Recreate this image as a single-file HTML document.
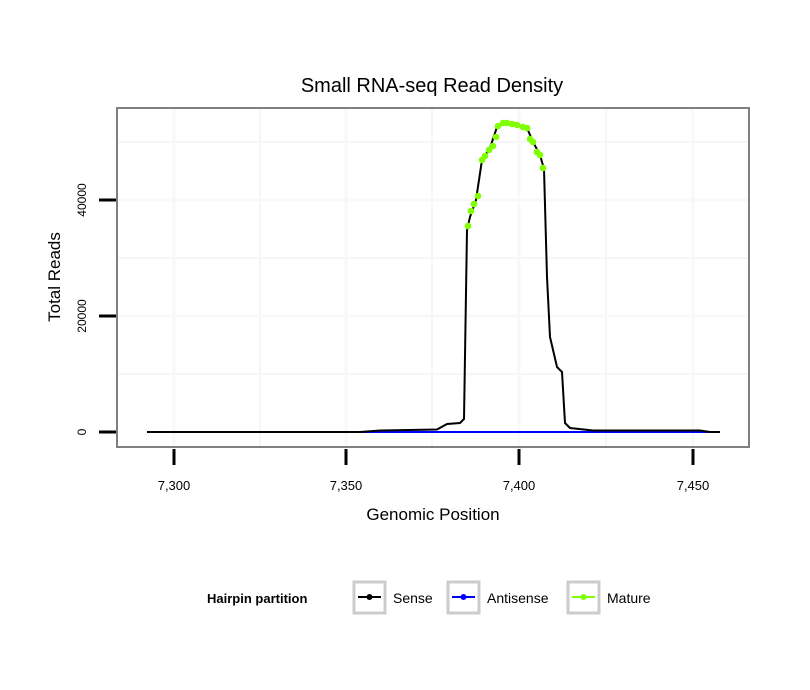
<!DOCTYPE html>
<html><head><meta charset="utf-8"><style>body{margin:0;background:#fff}svg{display:block}</style></head><body>
<svg width="810" height="690" xmlns="http://www.w3.org/2000/svg" font-family="Liberation Sans, sans-serif">
<rect width="810" height="690" fill="#fff"/>
<g stroke="#f6f6f6" stroke-width="2">
<line x1="117" x2="749" y1="142" y2="142"/><line x1="117" x2="749" y1="258" y2="258"/><line x1="117" x2="749" y1="374" y2="374"/>
<line x1="260" x2="260" y1="108" y2="447"/><line x1="432" x2="432" y1="108" y2="447"/><line x1="606" x2="606" y1="108" y2="447"/>
</g>
<g stroke="#f8f8f8" stroke-width="3">
<line x1="117" x2="749" y1="200" y2="200"/><line x1="117" x2="749" y1="316" y2="316"/>
<line x1="174" x2="174" y1="108" y2="447"/><line x1="346" x2="346" y1="108" y2="447"/><line x1="519" x2="519" y1="108" y2="447"/><line x1="693" x2="693" y1="108" y2="447"/>
</g>
<line x1="147" x2="720" y1="432" y2="432" stroke="#0000ff" stroke-width="2"/>
<polyline fill="none" stroke="#000" stroke-width="2" points="147,432 360,432 380,430.5 437,429.5 447,424 460,423 464,419 467,230 470,217 476,200 482,160 490,148 497,127 505,123 517,125 527,128 533,142 540,155 544,169 547,277 550,337 557,367 562,372 565,423 570,428 593,430.5 700,430.5 710,432 720,432"/>
<g fill="#7fff00">
<circle cx="468" cy="226" r="3.3"/><circle cx="471" cy="211" r="3.3"/><circle cx="474" cy="204" r="3.3"/><circle cx="478" cy="196" r="3.3"/><circle cx="482" cy="160" r="3.3"/><circle cx="485" cy="156" r="3.3"/><circle cx="489" cy="150" r="3.3"/><circle cx="493" cy="146" r="3.3"/><circle cx="496" cy="137" r="3.3"/><circle cx="498" cy="126" r="3.3"/><circle cx="503" cy="123" r="3.3"/><circle cx="507" cy="123" r="3.3"/><circle cx="512" cy="124" r="3.3"/><circle cx="517" cy="125" r="3.3"/><circle cx="523" cy="127" r="3.3"/><circle cx="527" cy="128" r="3.3"/><circle cx="530" cy="139" r="3.3"/><circle cx="533" cy="142" r="3.3"/><circle cx="537" cy="152" r="3.3"/><circle cx="540" cy="155" r="3.3"/><circle cx="543" cy="168" r="3.3"/>
</g>
<rect x="117" y="108" width="632" height="339" fill="none" stroke="#808080" stroke-width="2"/>
<g stroke="#000" stroke-width="3">
<line x1="99" x2="116" y1="200" y2="200"/><line x1="99" x2="116" y1="316" y2="316"/><line x1="99" x2="116" y1="432" y2="432"/>
<line x1="174" x2="174" y1="449" y2="465"/><line x1="346" x2="346" y1="449" y2="465"/><line x1="519" x2="519" y1="449" y2="465"/><line x1="693" x2="693" y1="449" y2="465"/>
</g>
<g font-size="13" fill="#000" text-anchor="middle">
<text x="174" y="490">7,300</text><text x="346" y="490">7,350</text><text x="519" y="490">7,400</text><text x="693" y="490">7,450</text>
</g>
<g font-size="12" fill="#000" text-anchor="middle">
<text transform="translate(86,200) rotate(-90)">40000</text>
<text transform="translate(86,316) rotate(-90)">20000</text>
<text transform="translate(86,432) rotate(-90)">0</text>
</g>
<text x="433" y="520" font-size="17" text-anchor="middle">Genomic Position</text>
<text transform="translate(60,277) rotate(-90)" font-size="17" text-anchor="middle">Total Reads</text>
<text x="432" y="92" font-size="20" text-anchor="middle">Small RNA-seq Read Density</text>
<text x="207" y="603" font-size="13" font-weight="bold">Hairpin partition</text>
<g stroke="#cccccc" stroke-width="3" fill="none">
<rect x="354" y="582" width="31" height="31"/><rect x="448" y="582" width="31" height="31"/><rect x="568" y="582" width="31" height="31"/>
</g>
<line x1="358" x2="381" y1="597" y2="597" stroke="#000" stroke-width="2"/><circle cx="369.5" cy="597" r="3" fill="#000"/>
<line x1="452" x2="475" y1="597" y2="597" stroke="#00f" stroke-width="2"/><circle cx="463.5" cy="597" r="3" fill="#00f"/>
<line x1="572" x2="595" y1="597" y2="597" stroke="#7fff00" stroke-width="2"/><circle cx="583.5" cy="597" r="3" fill="#7fff00"/>
<g font-size="14" fill="#000">
<text x="393" y="603">Sense</text><text x="487" y="603">Antisense</text><text x="607" y="603">Mature</text>
</g>
</svg>
</body></html>
